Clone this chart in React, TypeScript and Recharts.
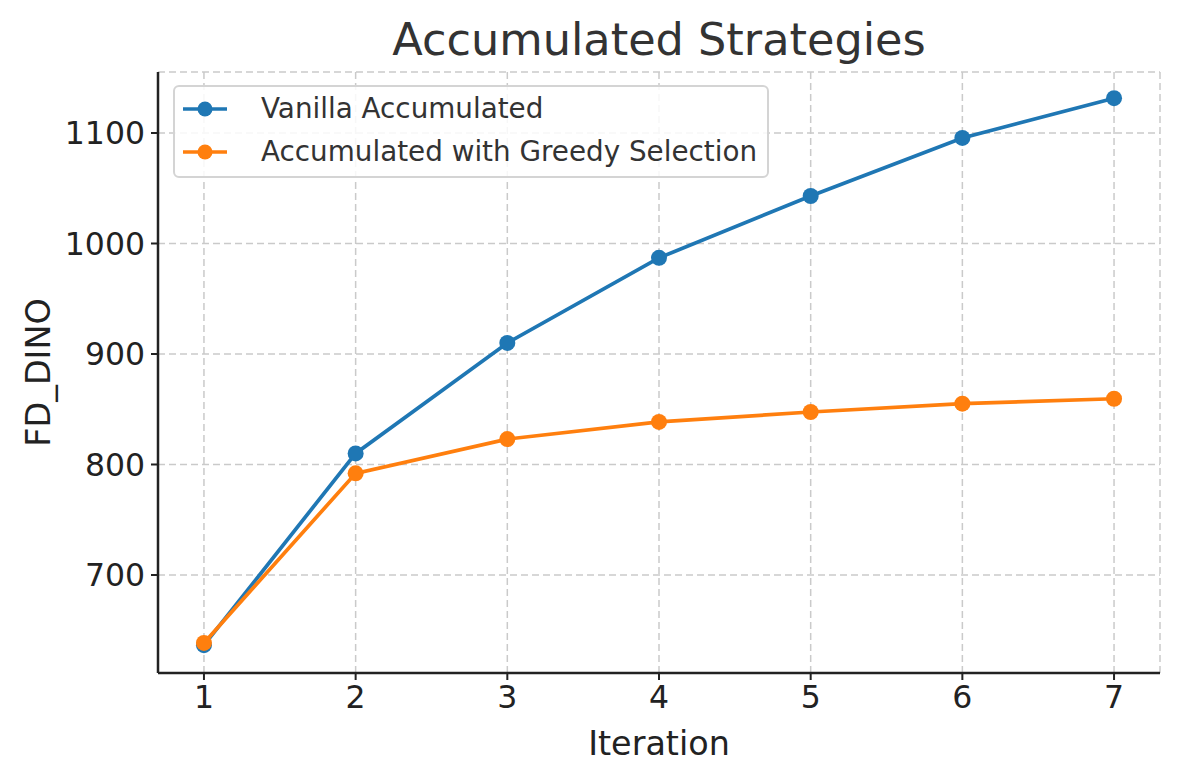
import { LineChart, Line, XAxis, YAxis, CartesianGrid } from 'recharts'

const iterations = [1, 2, 3, 4, 5, 6, 7]
const vanillaAccumulated = [636.5, 810, 910, 987, 1043, 1095.5, 1131.5]
const greedyAccumulated = [638.5, 792, 823, 838.5, 847.5, 855, 859.5]
const xTicks = [1, 2, 3, 4, 5, 6, 7]
const yTicks = [700, 800, 900, 1000, 1100]

const seriesInfo = [
	{ key: 'vanilla', name: 'Vanilla Accumulated', color: '#1f77b4' },
	{ key: 'greedy', name: 'Accumulated with Greedy Selection', color: '#ff7f0e' },
]

const data = iterations.map((it, i) => ({
	iteration: it,
	vanilla: vanillaAccumulated[i],
	greedy: greedyAccumulated[i],
}))

const FONT = "'DejaVu Sans', sans-serif"
const AXIS = '#222'

// drawn as plain html so it does not steal room from the plot
const LegendBox = () => (
	<div
		style={{
			position: 'absolute',
			left: 173,
			top: 85,
			width: 596,
			height: 93,
			border: '2px solid #d4d4d4',
			borderRadius: 6,
			background: 'rgba(255,255,255,0.85)',
			boxSizing: 'border-box',
			paddingTop: 0,
			zIndex: 2,
		}}
	>
		{seriesInfo.map((s) => (
			<div key={s.key} style={{ display: 'flex', alignItems: 'center', height: 43 }}>
				<svg width={78} height={20} style={{ marginLeft: 8 }}>
					<line x1={0} y1={10} x2={44} y2={10} stroke={s.color} strokeWidth={3.7} />
					<circle cx={22} cy={10} r={7.5} fill={s.color} />
				</svg>
				<span style={{ fontSize: 27.8, color: '#333', fontFamily: FONT, whiteSpace: 'nowrap' }}>{s.name}</span>
			</div>
		))}
	</div>
)

export default function App() {
	return (
		<div style={{ position: 'absolute', left: 0, top: 0, width: 1180, height: 780, background: '#fff', fontFamily: FONT }}>
			<div
				style={{
					position: 'absolute',
					left: 158,
					width: 1002,
					top: 12,
					height: 56,
					lineHeight: '56px',
					textAlign: 'center',
					fontSize: 44.6,
					color: '#333',
				}}
			>
				Accumulated Strategies
			</div>
			<LineChart width={1180} height={780} data={data} margin={{ top: 72, right: 20, bottom: 0, left: 0 }}>
				<CartesianGrid strokeDasharray="7 4" stroke="#cacaca" strokeWidth={1.5} />
				<XAxis
					dataKey="iteration"
					type="number"
					domain={[0.697, 7.303]}
					ticks={xTicks}
					allowDataOverflow
					height={107}
					axisLine={{ stroke: AXIS, strokeWidth: 2.5 }}
					tickLine={{ stroke: AXIS, strokeWidth: 2 }}
					tickSize={7}
					tickMargin={6}
					tick={{ fontSize: 31.5, fill: AXIS, fontFamily: FONT }}
					label={{ value: 'Iteration', position: 'insideTop', offset: 58, fontSize: 33.4, fill: AXIS, fontFamily: FONT }}
				/>
				<YAxis
					type="number"
					domain={[611.3, 1155.2]}
					ticks={yTicks}
					allowDataOverflow
					width={158}
					axisLine={{ stroke: AXIS, strokeWidth: 2.5 }}
					tickLine={{ stroke: AXIS, strokeWidth: 2 }}
					tickSize={7}
					tickMargin={6}
					tick={{ fontSize: 31.5, fill: AXIS, fontFamily: FONT }}
					label={{
						value: 'FD_DINO',
						angle: -90,
						position: 'insideLeft',
						offset: 38,
						fontSize: 33.4,
						fill: AXIS,
						fontFamily: FONT,
						style: { textAnchor: 'middle' },
					}}
				/>
				{seriesInfo.map((s) => (
					<Line
						key={s.key}
						dataKey={s.key}
						name={s.name}
						stroke={s.color}
						strokeWidth={3.7}
						dot={{ r: 8, fill: s.color, stroke: s.color, strokeWidth: 0 }}
						activeDot={false}
						isAnimationActive={false}
					/>
				))}
			</LineChart>
			<LegendBox />
		</div>
	)
}
